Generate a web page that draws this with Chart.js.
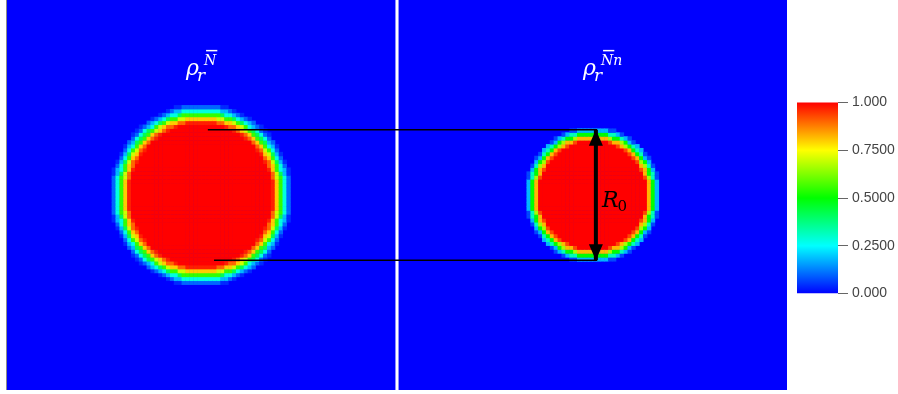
<!DOCTYPE html>
<html>
<head>
<meta charset="utf-8">
<script src="https://cdn.jsdelivr.net/npm/chart.js@4/dist/chart.umd.min.js"></script>
<style>
body { margin: 0; background: #fff; }
#wrap { position: relative; width: 898px; height: 394px; }
#field { position: absolute; left: 0; top: 0; }
#bar { position: absolute; left: 780px; top: 90px; }
</style>
</head>
<body>
<div id="wrap">
  <canvas id="field" width="898" height="394"></canvas>
  <canvas id="bar" width="118" height="216"></canvas>
</div>
<script>
// grid of each panel, both panels share one x axis (second one shifted)
const gridCells = 100;
const panelOffsets = [0, 100.8];
const circleCenter = [50, 50];

// density read along a radius, left and right field
const leftRadii    = [18.5, 19.0, 19.5, 20.0, 20.5, 21.0, 21.5, 22.0, 22.5, 23.0, 23.5, 24.0];
const leftDensity  = [1.00, 0.97, 0.90, 0.80, 0.70, 0.55, 0.42, 0.28, 0.18, 0.10, 0.04, 0.00];
const rightRadii   = [14.0, 14.5, 15.0, 15.5, 16.0, 16.5, 17.0, 17.5, 18.0];
const rightDensity = [1.00, 0.93, 0.82, 0.66, 0.50, 0.32, 0.18, 0.07, 0.00];

// the two guide lines and the R0 arrow
const topLineX = [51.7, 151.9];
const topLineY = [66.7, 66.7];
const bottomLineX = [53.3, 151.9];
const bottomLineY = [33.3, 33.3];
const arrowX = [151.6, 151.6];
const arrowY = [66.7, 33.3];

const titleBase = 'ρ';
const titleSub = 'r';
const titleSup = ['N', 'Nn'];
const arrowLabel = 'R';
const arrowLabelSub = '0';

// colour bar
const barTicks = [0, 0.25, 0.5, 0.75, 1];
const barTickLabels = ['0.000', '0.2500', '0.5000', '0.7500', '1.000'];
const mapStops = [0, 0.25, 0.5, 0.75, 1];
const mapColors = [[0, 0, 255], [0, 255, 255], [0, 255, 0], [255, 255, 0], [255, 0, 0]];

function colorFor(v) {
  let k = 0;
  while (k < mapStops.length - 2 && v > mapStops[k + 1]) k++;
  const t = (v - mapStops[k]) / (mapStops[k + 1] - mapStops[k]);
  const a = mapColors[k], b = mapColors[k + 1];
  const c = a.map((x, i) => Math.round(x + (b[i] - x) * t));
  return 'rgb(' + c.join(',') + ')';
}

function lookup(radii, dens, d) {
  for (let k = 0; k < radii.length; k++) {
    if (d <= radii[k]) return dens[k];
  }
  return 0;
}

function buildCells(offset, radii, dens) {
  const pts = [], cols = [];
  for (let i = 0; i < gridCells; i++) {
    for (let j = 0; j < gridCells; j++) {
      const x = i + 0.5, y = j + 0.5;
      const d = Math.hypot(x - circleCenter[0], y - circleCenter[1]);
      const v = lookup(radii, dens, d);
      if (v <= 0) continue;
      pts.push({x: x + offset, y: y});
      cols.push(colorFor(v));
    }
  }
  return {pts, cols};
}

const leftCells = buildCells(panelOffsets[0], leftRadii, leftDensity);
const rightCells = buildCells(panelOffsets[1], rightRadii, rightDensity);

function cellSet(c) {
  return {
    type: 'scatter',
    order: 5,
    data: c.pts,
    pointStyle: 'rect',
    pointRadius: 3.1,
    pointBorderWidth: 0,
    pointBackgroundColor: c.cols,
    pointHoverRadius: 3.1
  };
}

function lineSet(xs, ys, w) {
  return {
    type: 'line',
    order: 1,
    data: xs.map((x, i) => ({x: x, y: ys[i]})),
    borderColor: '#000',
    borderWidth: w,
    pointRadius: 0,
    fill: false
  };
}

const panelBack = {
  id: 'panelBack',
  beforeDatasetsDraw(chart) {
    const {ctx, scales: {x, y}} = chart;
    ctx.save();
    panelOffsets.forEach(off => {
      const l = x.getPixelForValue(off), r = x.getPixelForValue(off + gridCells);
      const t = y.getPixelForValue(gridCells), b = y.getPixelForValue(0);
      ctx.fillStyle = '#0000ff';
      ctx.fillRect(l, t, r - l, b - t);
    });
    // thin grey left edge of the first panel
    ctx.fillStyle = 'rgba(90,90,90,0.7)';
    ctx.fillRect(x.getPixelForValue(0) - 1, 0, 1, y.getPixelForValue(0));
    ctx.restore();
  }
};

const labels = {
  id: 'labels',
  afterDatasetsDraw(chart) {
    const {ctx, scales: {x, y}} = chart;
    ctx.save();
    // arrow heads
    const meta = chart.getDatasetMeta(4);
    const p0 = meta.data[0], p1 = meta.data[1];
    ctx.fillStyle = '#000';
    ctx.beginPath();
    ctx.moveTo(p0.x, p0.y); ctx.lineTo(p0.x - 7, p0.y + 16); ctx.lineTo(p0.x + 7, p0.y + 16); ctx.closePath();
    ctx.fill();
    ctx.beginPath();
    ctx.moveTo(p1.x, p1.y); ctx.lineTo(p1.x - 7, p1.y - 16); ctx.lineTo(p1.x + 7, p1.y - 16); ctx.closePath();
    ctx.fill();

    // R0
    const rx = x.getPixelForValue(arrowX[0]) + 6;
    const ry = (p0.y + p1.y) / 2 + 12;
    ctx.textBaseline = 'alphabetic';
    ctx.font = 'italic 22px "DejaVu Serif"';
    ctx.fillText(arrowLabel, rx, ry);
    const rw = ctx.measureText(arrowLabel).width;
    ctx.font = '15px "DejaVu Serif"';
    ctx.fillText(arrowLabelSub, rx + rw - 1, ry + 4);

    // titles
    ctx.fillStyle = '#fff';
    const titleX = [46.1, 47.5];
    panelOffsets.forEach((off, k) => {
      const tx = x.getPixelForValue(off + titleX[k]);
      const ty = y.getPixelForValue(80.8);
      ctx.font = 'italic 22px "DejaVu Serif"';
      ctx.fillText(titleBase, tx, ty);
      ctx.font = 'italic 17px "DejaVu Serif"';
      ctx.fillText(titleSub, tx + 11, ty + 6);
      ctx.font = 'italic 14px "DejaVu Serif"';
      ctx.fillText(titleSup[k], tx + 18, ty - 10);
      const nw = ctx.measureText('N').width;
      ctx.fillRect(tx + 20, ty - 25, nw - 1, 1.5);
    });
    ctx.restore();
  }
};

new Chart(document.getElementById('field'), {
  type: 'scatter',
  data: {
    datasets: [
      cellSet(leftCells),
      cellSet(rightCells),
      lineSet(topLineX, topLineY, 1.5),
      lineSet(bottomLineX, bottomLineY, 1.5),
      lineSet(arrowX, arrowY, 4)
    ]
  },
  options: {
    responsive: false,
    animation: false,
    events: [],
    layout: {autoPadding: false, padding: {left: 7, top: 0, right: 111, bottom: 4}},
    plugins: {legend: {display: false}, tooltip: {enabled: false}},
    scales: {
      x: {type: 'linear', min: 0, max: 200.8, display: false},
      y: {type: 'linear', min: 0, max: 100, display: false}
    }
  },
  plugins: [panelBack, labels]
});

new Chart(document.getElementById('bar'), {
  type: 'bar',
  data: {
    labels: ['value'],
    datasets: [{
      data: [[0, 1]],
      barPercentage: 1,
      categoryPercentage: 1,
      borderWidth: 0,
      backgroundColor(c) {
        const area = c.chart.chartArea;
        if (!area) return '#0f0';
        const g = c.chart.ctx.createLinearGradient(0, area.bottom, 0, area.top);
        mapStops.forEach((s, i) => g.addColorStop(s, 'rgb(' + mapColors[i].join(',') + ')'));
        return g;
      }
    }]
  },
  options: {
    responsive: false,
    animation: false,
    events: [],
    layout: {padding: {left: 17, top: 9, bottom: 9, right: 0}},
    plugins: {legend: {display: false}, tooltip: {enabled: false}},
    scales: {
      x: {display: false},
      y: {
        position: 'right',
        min: 0,
        max: 1,
        afterBuildTicks(s) { s.ticks = barTicks.map(v => ({value: v})); },
        afterFit(s) { s.width = 60; },
        border: {display: false},
        grid: {drawOnChartArea: false, drawTicks: true, tickLength: 10, color: '#666'},
        ticks: {
          padding: 4,
          color: '#444',
          font: {family: 'Liberation Sans', size: 14},
          callback(v) { return barTickLabels[barTicks.indexOf(v)]; }
        }
      }
    }
  }
});
</script>
</body>
</html>
